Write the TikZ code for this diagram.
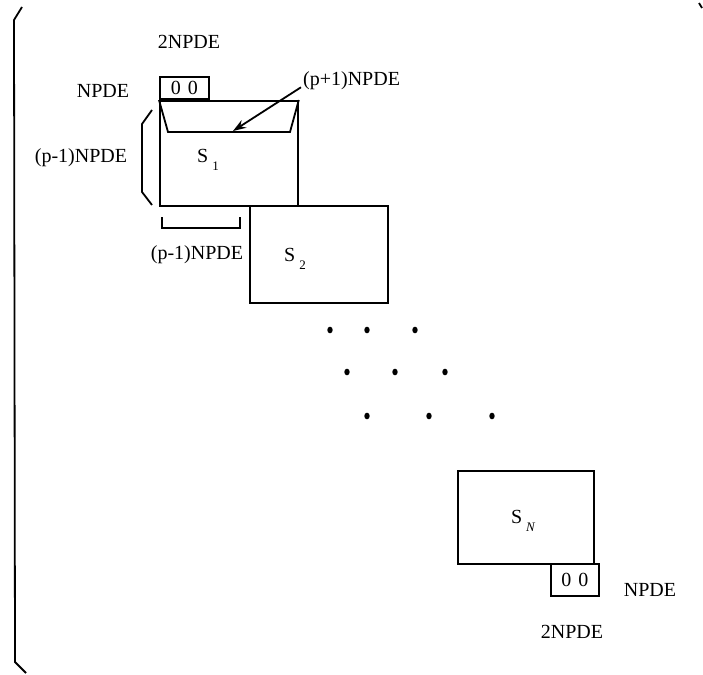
\documentclass[tikz,border=0pt]{standalone}
\usepackage{fontspec}
\setmainfont{Liberation Serif}
\usetikzlibrary{arrows.meta}
\tikzset{
  ln/.style={line width=1.8pt, line join=miter},
  lbl/.style={font=\fontsize{20}{20}\selectfont, inner sep=0pt},
  blk/.style={ln, draw},
}
\newcommand{\sub}[1]{\kern4pt\raisebox{-8pt}{\fontsize{13}{13}\selectfont #1}}
\begin{document}
\begin{tikzpicture}[x=1pt,y=-1pt]
\useasboundingbox (0,0) rectangle (703,674);
% outer bracket
\draw[ln] (22,7) -- (14,20) -- (15,662) -- (26,673);
\draw[ln] (699,3) -- (702,8);
% blocks
\node[blk, minimum width=138pt, minimum height=105pt, anchor=north west, inner sep=0pt] (s1) at (159,100) {};
\node[blk, minimum width=49pt, minimum height=22pt, anchor=south west, inner sep=0pt, lbl] (z1) at (159,100) {0\hspace{7pt}0};
\node[blk, minimum width=138pt, minimum height=97pt, anchor=north west, inner sep=0pt] (s2) at (249,205) {};
\node[blk, minimum width=136pt, minimum height=93pt, anchor=north west, inner sep=0pt] (sn) at (457,470) {};
\node[blk, minimum width=48pt, minimum height=32pt, anchor=north west, inner sep=0pt, lbl] (z2) at (550,563) {0\hspace{7pt}0};
% trapezoid inside S1
\coordinate (tl) at (168,132);
\coordinate (tr) at (290,132);
\draw[ln] (s1.north west) -- (tl) -- (tr) -- (s1.north east);
\coordinate (tip) at (233,131);
% labels
\node[lbl] (l2top) at (189,42) {2NPDE};
\node[lbl] (lnp) at (103,91) {NPDE};
\node[lbl, anchor=west] (lp1) at (303,81) {(p+1)NPDE};
\draw[line width=1.8pt, -{Stealth[length=13pt,width=9pt]}] (lp1.south west) ++(-2pt,3pt) -- (tip);
\node[lbl] (lpm1) at (81,158) {(p-1)NPDE};
\node[lbl] (lpm2) at (197,255) {(p-1)NPDE};
\node[lbl] (ls1) at (208,160) {S\sub{1}};
\node[lbl] (ls2) at (295,259) {S\sub{2}};
\node[lbl] (lsn) at (523,521) {S\sub{\itshape N}};
\node[lbl] (lnp2) at (650,590) {NPDE};
\node[lbl] (l2bot) at (572,632) {2NPDE};
% brackets
\draw[ln] (152,110) -- (142,124) -- (142,192) -- (152,205);
\draw[ln] (162,217) -- (162,228) -- (240,228) -- (240,217);
% dots
\foreach \x/\y in {330/330,367/330,415/330,347/372,395/372,445/372,367/416,429/416,492/416}
  \fill (\x,\y) ellipse (2.7pt and 3.3pt);
\end{tikzpicture}
\end{document}
